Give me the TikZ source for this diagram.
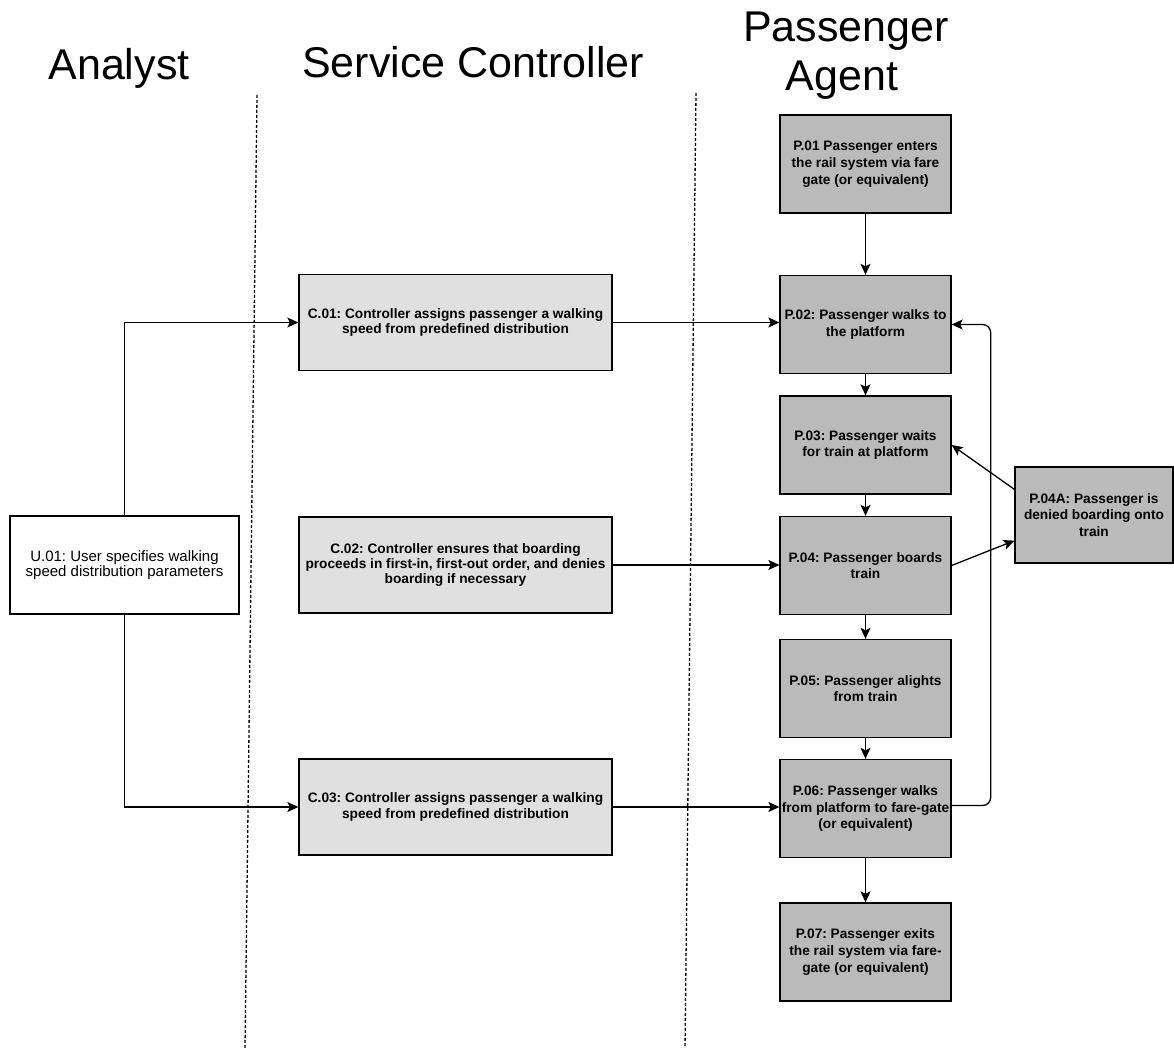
\documentclass[tikz,border=0pt]{standalone}
\usepackage{fontspec}
\setmainfont{Liberation Sans}
\usetikzlibrary{arrows.meta}
\definecolor{cgray}{HTML}{E0E0E0}
\definecolor{pgray}{HTML}{BABABA}
\frenchspacing
\begin{document}
\begin{tikzpicture}[x=1pt,y=-1pt,
  box/.style={draw=black, line width=1.3pt, inner sep=1pt, align=center, anchor=center},
  ubox/.style={box, fill=white, minimum width=229pt, minimum height=98pt,
    font=\fontsize{15}{14.5}\selectfont},
  cbox/.style={box, fill=cgray, minimum width=313pt, minimum height=96pt,
    font=\fontsize{13.7}{15.2}\selectfont\bfseries},
  pbox/.style={box, fill=pgray, minimum width=171pt, minimum height=98pt,
    font=\fontsize{13.7}{16.8}\selectfont\bfseries},
  arr/.style={-{Stealth[length=11pt,width=10pt,inset=2.5pt]}, line width=1.3pt},
  lane/.style={dash pattern=on 3pt off 2pt, line width=1.3pt},
  title/.style={font=\fontsize{43}{49}\selectfont, anchor=base, inner sep=0pt}
]
\fill[white] (0,0) rectangle (1174,1048);
\useasboundingbox (0,0) rectangle (1174,1048);

% swimlane headings
\node[title] (tAnalyst) at (119,80) {Analyst};
\node[title] (tService) at (473,78) {Service Controller};
\node[title] (tPass) at (846,42) {Passenger};
\node[title] (tAgent) at (842,91) {Agent};

% swimlane separators
\coordinate (l1t) at (257,95);
\coordinate (l1b) at (245,1048);
\coordinate (l2t) at (696,93);
\coordinate (l2b) at (685,1048);
\draw[lane] (l1t) -- (l1b);
\draw[lane] (l2t) -- (l2b);

% analyst
\node[ubox] (u1) at (124.5,565) {U.01: User specifies walking\\speed distribution parameters};

% service controller
\node[cbox] (c1) at (455.5,322.5) {C.01: Controller assigns passenger a walking\\speed from predefined distribution};
\node[cbox] (c2) at (455.5,565) {C.02: Controller ensures that boarding\\proceeds in first-in, first-out order, and denies\\boarding if necessary};
\node[cbox] (c3) at (455.5,807) {C.03: Controller assigns passenger a walking\\speed from predefined distribution};

% passenger agent
\node[pbox] (p1) at (865.5,164) {P.01 Passenger enters\\the rail system via fare\\gate (or equivalent)};
\node[pbox] (p2) at (865.5,324.5) {P.02: Passenger walks to\\the platform};
\node[pbox] (p3) at (865.5,445) {P.03: Passenger waits\\for train at platform};
\node[pbox] (p4) at (865.5,565.5) {P.04: Passenger boards\\train};
\node[pbox] (p5) at (865.5,688.5) {P.05: Passenger alights\\from train};
\node[pbox] (p6) at (865.5,808.5) {P.06: Passenger walks\\from platform to fare-gate\\(or equivalent)};
\node[pbox] (p7) at (865.5,952) {P.07: Passenger exits\\the rail system via fare-\\gate (or equivalent)};
\node[pbox, minimum width=158pt, minimum height=96pt] (p4a) at (1094,515) {P.04A: Passenger is\\denied boarding onto\\train};

% analyst to controller
\draw[arr] (u1.north) |- (c1.west);
\draw[arr] (u1.south) |- (c3.west);

% controller to passenger
\draw[arr] (c1.east) -- (c1.east -| p2.west);
\draw[arr] (c2.east) -- (c2.east -| p4.west);
\draw[arr] (c3.east) -- (c3.east -| p6.west);

% passenger flow
\draw[arr] (p1) -- (p2);
\draw[arr] (p2) -- (p3);
\draw[arr] (p3) -- (p4);
\draw[arr] (p4) -- (p5);
\draw[arr] (p5) -- (p6);
\draw[arr] (p6) -- (p7);

% denied boarding branch
\draw[arr] (p4.east) -- ([yshift=23pt]p4a.south west);
\draw[arr] ([yshift=-23pt]p4a.north west) -- (p3.east);

% return loop
\draw[arr, rounded corners=8pt] ([yshift=3pt]p6.east) -- ++(39,0) |- (p2.east);
\end{tikzpicture}
\end{document}
